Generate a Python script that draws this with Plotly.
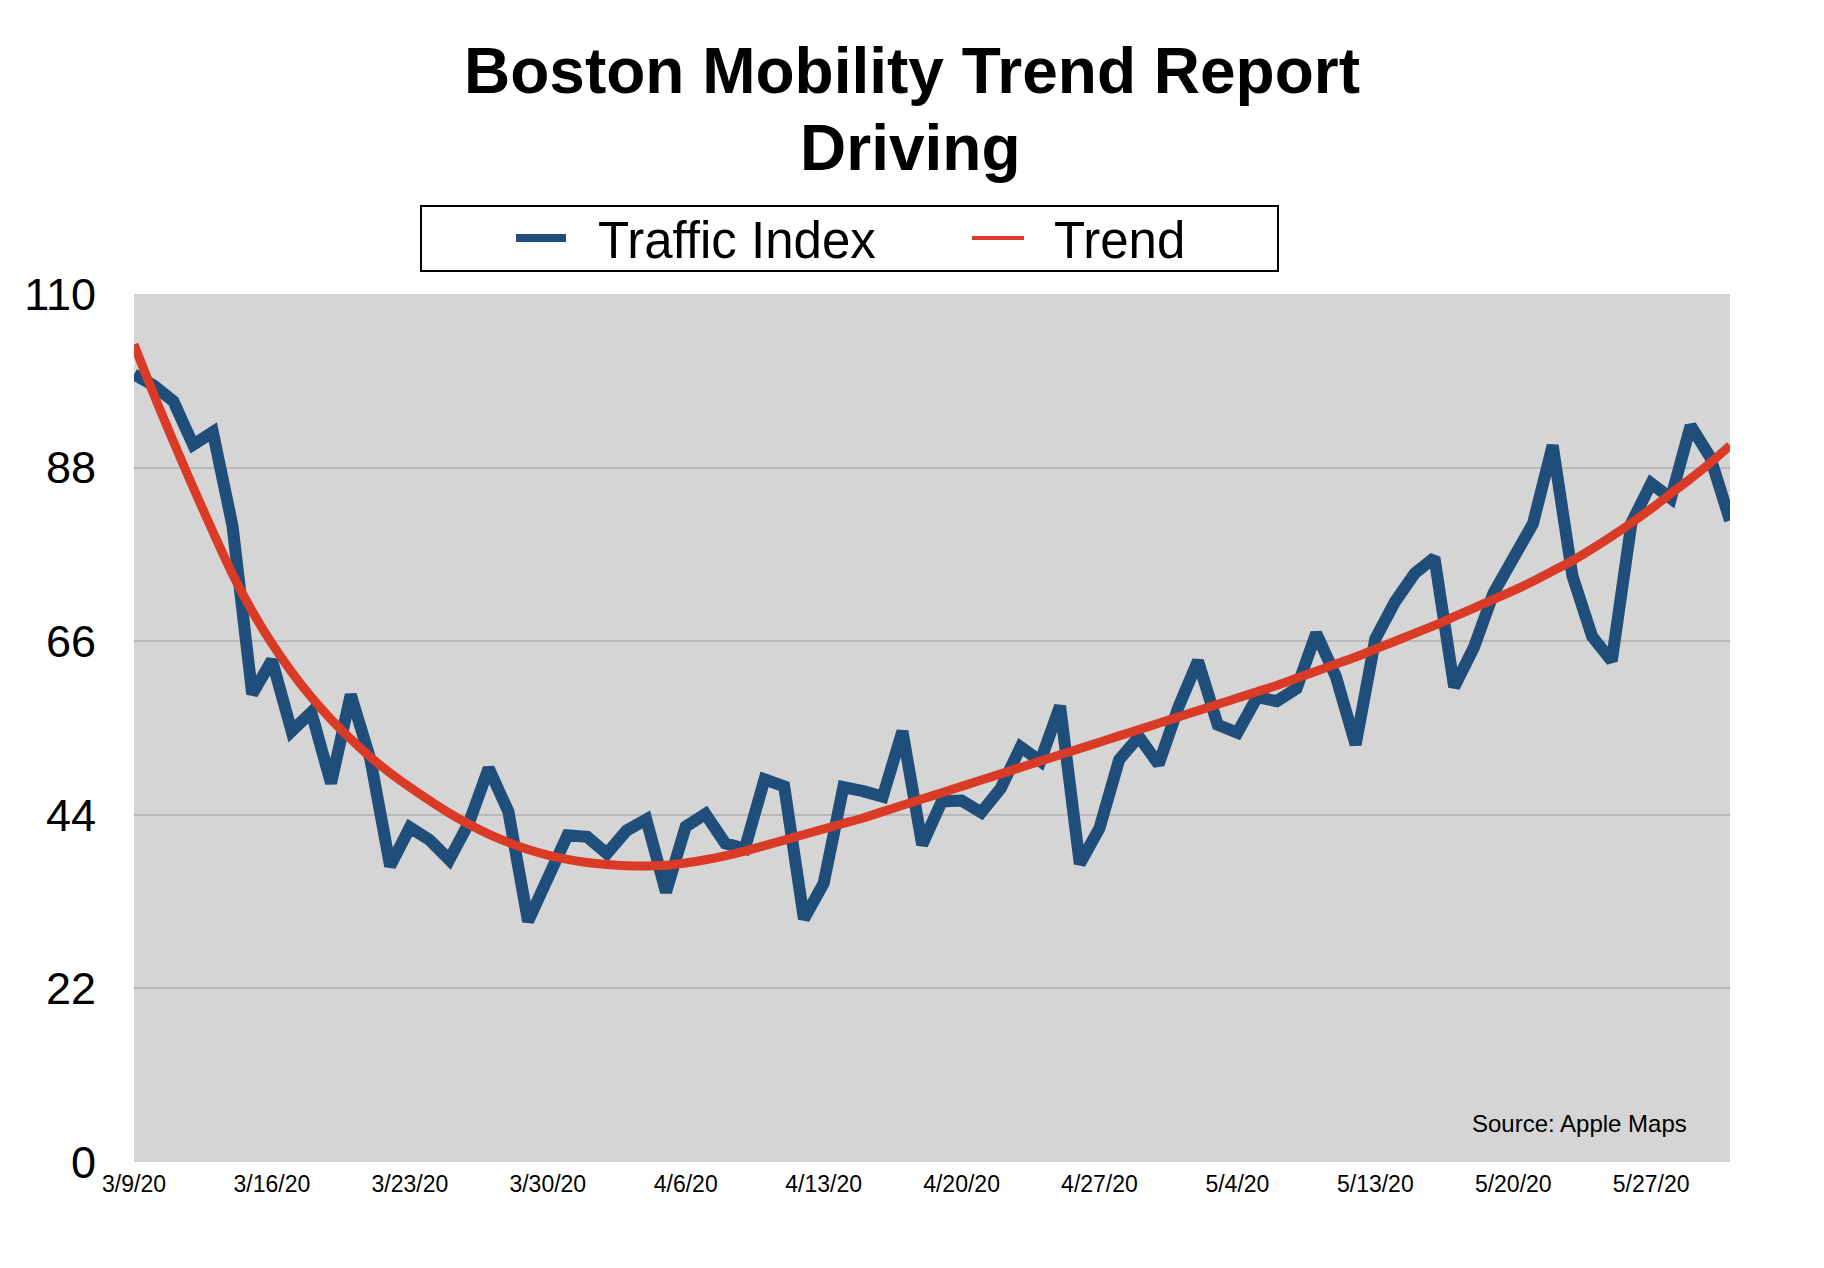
import plotly.graph_objects as go
import pandas as pd

# ---------------- data ----------------
traffic_index = [
    99.8, 98.4, 96.4, 90.9, 92.5, 80.6, 59.3, 63.6, 54.6, 57.0,
    48.0, 59.2, 51.0, 37.5, 42.4, 40.8, 38.3, 43.0, 49.9, 44.4,
    30.5, 36.3, 41.4, 41.2, 39.1, 42.0, 43.4, 34.2, 42.5, 44.1,
    40.4, 39.7, 48.5, 47.6, 30.8, 35.3, 47.5, 47.0, 46.3, 54.6,
    40.2, 45.7, 45.8, 44.3, 47.4, 52.6, 50.8, 57.8, 37.8, 42.3,
    51.0, 53.9, 50.4, 57.6, 63.5, 55.4, 54.4, 58.9, 58.4, 60.0,
    67.0, 61.5, 52.9, 66.3, 71.0, 74.6, 76.6, 60.2, 65.2, 72.1,
    76.6, 80.9, 90.8, 74.3, 66.6, 63.5, 81.0, 86.0, 84.1, 93.3,
    89.3, 81.3,
]

trend = [
    103.6, 97.3, 91.3, 85.5, 79.9, 74.5, 69.8, 65.7, 62.1, 58.9,
    56.1, 53.6, 51.3, 49.3, 47.5, 45.8, 44.2, 42.8, 41.55, 40.5,
    39.6, 38.9, 38.35, 37.95, 37.7, 37.55, 37.5, 37.6, 37.9, 38.3,
    38.8, 39.4, 40.1, 40.8, 41.5, 42.2, 42.9, 43.6, 44.4, 45.2,
    46.0, 46.8, 47.6, 48.4, 49.2, 50.0, 50.8, 51.6, 52.4, 53.2,
    54.0, 54.8, 55.6, 56.4, 57.2, 58.0, 58.8, 59.6, 60.4, 61.3,
    62.2, 63.1, 64.0, 65.0, 66.0, 67.0, 68.0, 69.1, 70.2, 71.3,
    72.4, 73.6, 74.9, 76.2, 77.7, 79.3, 81.0, 82.8, 84.7, 86.6,
    88.6, 90.8,
]

tick_labels = ["3/9/20", "3/16/20", "3/23/20", "3/30/20", "4/6/20", "4/13/20",
               "4/20/20", "4/27/20", "5/4/20", "5/13/20", "5/20/20", "5/27/20"]
y_ticks = [0, 22, 44, 66, 88, 110]
missing_days = ["2020-05-11", "2020-05-12"]

# category labels for every data day (the source has no data on 5/11 and 5/12)
days = [d for d in pd.date_range("2020-03-09", "2020-05-31")
        if d.strftime("%Y-%m-%d") not in missing_days]
categories = [f"{d.month}/{d.day}/{d.strftime('%y')}" for d in days]

# ---------------- style ----------------
BLUE = "#1F4E7A"
RED = "#D93B27"
FONT = "Liberation Sans, Arial, Helvetica, sans-serif"
W, H = 1824, 1268
L, R, T, B = 134, 94, 294, 106
PW, PH = W - L - R, H - T - B


def px(x):
    return (x - L) / PW


def py(y):
    return (H - B - y) / PH


fig = go.Figure()
fig.add_trace(go.Scatter(
    x=categories, y=traffic_index, mode="lines", name="Traffic Index",
    line=dict(color=BLUE, width=12), showlegend=False,
))
fig.add_trace(go.Scatter(
    x=categories, y=trend, mode="lines", name="Trend",
    line=dict(color=RED, width=9, shape="spline", smoothing=0.8), showlegend=False,
))

# manual legend box
shapes = [
    dict(type="rect", xref="paper", yref="paper",
         x0=px(421), x1=px(1278), y0=py(271), y1=py(206),
         line=dict(color="black", width=2), fillcolor="white", layer="above"),
    dict(type="line", xref="paper", yref="paper",
         x0=px(516), x1=px(566), y0=py(238), y1=py(238),
         line=dict(color=BLUE, width=8), layer="above"),
    dict(type="line", xref="paper", yref="paper",
         x0=px(972), x1=px(1024), y0=py(238), y1=py(238),
         line=dict(color=RED, width=4), layer="above"),
]

annotations = [
    dict(text="Traffic Index", xref="paper", yref="paper", x=px(596), y=py(240),
         xanchor="left", yanchor="middle", showarrow=False,
         font=dict(family=FONT, size=51, color="black")),
    dict(text="Trend", xref="paper", yref="paper", x=px(1052), y=py(240),
         xanchor="left", yanchor="middle", showarrow=False,
         font=dict(family=FONT, size=51, color="black")),
    dict(text="Driving", xref="paper", yref="paper", x=px(910), y=py(148),
         xanchor="center", yanchor="middle", showarrow=False,
         font=dict(family=FONT, size=64, color="black", weight="bold")),
    dict(text="Source: Apple Maps", xref="paper", yref="paper", x=px(1689), y=py(1123),
         xanchor="right", yanchor="middle", showarrow=False,
         font=dict(family=FONT, size=24, color="black")),
]

fig.update_layout(
    width=W, height=H,
    margin=dict(l=L, r=R, t=T, b=B, pad=0),
    paper_bgcolor="white",
    plot_bgcolor="#D5D5D5",
    title=dict(text="Boston Mobility Trend Report", x=0.5, xanchor="center",
               xref="container", yref="container", y=1 - 71 / H, yanchor="middle",
               font=dict(family=FONT, size=64, color="black", weight="bold")),
    shapes=shapes,
    annotations=annotations,
    showlegend=False,
    xaxis=dict(
        type="category", categoryorder="array", categoryarray=categories,
        range=[0, len(categories) - 1],
        tickmode="array", tickvals=tick_labels, ticktext=tick_labels,
        tickfont=dict(family=FONT, size=23, color="black"),
        ticks="outside", ticklen=1, tickcolor="rgba(0,0,0,0)",
        showgrid=False, zeroline=False, showline=False,
    ),
    yaxis=dict(
        range=[0, 110], tickmode="array", tickvals=y_ticks,
        tickfont=dict(family=FONT, size=45, color="black"),
        ticks="outside", ticklen=28, tickcolor="rgba(0,0,0,0)",
        showgrid=True, gridcolor="#B9B9B9", gridwidth=2,
        zeroline=False, showline=False,
    ),
)

fig.write_html("out.html")
